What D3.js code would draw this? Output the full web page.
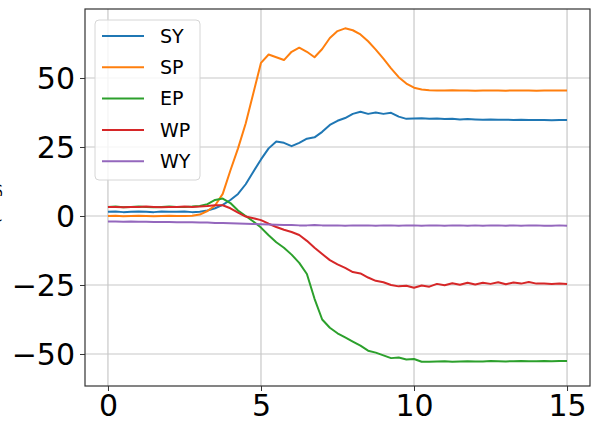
<!DOCTYPE html>
<html>
<head>
<meta charset="utf-8">
<script src="https://cdn.jsdelivr.net/npm/d3@7"></script>
<style>
  body { margin: 0; background: #fff; }
  svg text { font-family: "DejaVu Sans", sans-serif; fill: #000; }
</style>
</head>
<body>
<div id="canvas"></div>
<script>
// sample times, every 0.25 s from 0 to 15
var time = d3.range(61).map(i => i * 0.25)

var seriesNames = ['SY', 'SP', 'EP', 'WP', 'WY']
var seriesColors = ['#1f77b4', '#ff7f0e', '#2ca02c', '#d62728', '#9467bd']

var SY = [1.5, 1.6, 1.4, 1.5, 1.6, 1.5, 1.4, 1.6, 1.5, 1.5, 1.6, 1.4, 1.5,
  2.0, 2.8, 4.0, 5.8, 8.0, 11.5, 16.0, 20.5, 24.5, 27.0, 26.5, 25.3, 26.5,
  28.0, 28.5, 30.5, 33.0, 34.5, 35.5, 37.0, 37.8, 37.0, 37.5, 37.0, 37.4,
  36.0, 35.2, 35.3, 35.4, 35.2, 35.3, 35.1, 35.2, 35.0, 35.1, 35.0, 34.9,
  35.0, 34.9, 34.9, 34.8, 34.9, 34.8, 34.8, 34.8, 34.7, 34.8, 34.8]

var SP = [0.0, 0.1, -0.1, 0.0, 0.1, 0.0, -0.1, 0.0, 0.1, 0.0, 0.0, 0.1, 0.5,
  1.8, 3.8, 8.0, 16.5, 24.5, 33.5, 44.5, 55.5, 58.5, 57.5, 56.5, 59.5, 61.0,
  59.5, 57.5, 60.5, 64.5, 67.0, 68.0, 67.3, 65.8, 63.3, 60.3, 57.0, 53.5,
  50.3, 48.0, 46.5, 45.8, 45.6, 45.5, 45.5, 45.6, 45.5, 45.5, 45.4, 45.5,
  45.5, 45.5, 45.4, 45.5, 45.5, 45.5, 45.4, 45.5, 45.5, 45.5, 45.5]

var EP = [3.3, 3.4, 3.2, 3.3, 3.4, 3.3, 3.2, 3.3, 3.4, 3.3, 3.3, 3.4, 3.6,
  4.3, 5.8, 6.3, 4.7, 2.0, 0.0, -2.0, -4.2, -7.0, -9.5, -11.5, -14.0, -17.0,
  -21.0, -30.0, -37.5, -40.5, -42.5, -44.0, -45.5, -47.0, -48.8, -49.5,
  -50.5, -51.5, -51.3, -52.0, -51.8, -52.8, -52.8, -52.7, -52.6, -52.8,
  -52.7, -52.6, -52.7, -52.7, -52.5, -52.6, -52.7, -52.6, -52.5, -52.6,
  -52.6, -52.5, -52.6, -52.5, -52.5]

var WP = [3.3, 3.3, 3.2, 3.3, 3.3, 3.4, 3.3, 3.2, 3.3, 3.3, 3.4, 3.3, 3.4,
  3.6, 3.9, 3.9, 2.8, 1.2, -0.2, -0.8, -1.5, -2.8, -4.0, -5.0, -5.8, -6.9,
  -9.0, -11.5, -13.8, -16.0, -17.5, -18.8, -20.3, -20.8, -22.3, -23.5, -24.0,
  -25.0, -25.5, -25.3, -26.0, -25.2, -25.6, -24.6, -25.1, -24.4, -24.9, -24.2,
  -24.8, -24.2, -24.6, -24.0, -24.7, -24.1, -24.5, -23.9, -24.5, -24.5,
  -24.6, -24.5, -24.6]

var WY = [-2.0, -2.0, -2.1, -2.0, -2.1, -2.1, -2.2, -2.2, -2.2, -2.3, -2.3,
  -2.3, -2.4, -2.4, -2.5, -2.5, -2.6, -2.7, -2.8, -2.9, -3.0, -3.1, -3.2,
  -3.3, -3.3, -3.4, -3.4, -3.3, -3.4, -3.4, -3.4, -3.5, -3.4, -3.4, -3.4,
  -3.5, -3.4, -3.4, -3.5, -3.4, -3.4, -3.5, -3.4, -3.4, -3.5, -3.4, -3.4,
  -3.5, -3.4, -3.5, -3.4, -3.4, -3.5, -3.4, -3.5, -3.4, -3.4, -3.5, -3.5,
  -3.4, -3.5]

var xTicks = [0, 5, 10, 15]
var yTicks = [-50, -25, 0, 25, 50]
var yLabel = '(deg)'

var values = [SY, SP, EP, WP, WY]
var data = seriesNames.map((name, k) => ({
  name: name,
  color: seriesColors[k],
  points: time.map((t, i) => ({t: t, v: values[k][i]}))
}))

var W = 596, H = 422
var margin = {top: 9, right: 6, bottom: 36, left: 85},
  width = W - margin.left - margin.right,
  height = H - margin.top - margin.bottom

var svg = d3.select('#canvas')
  .append('svg')
    .attr('width', W)
    .attr('height', H)

var g = svg.append('g')
  .attr('transform', 'translate(' + margin.left + ',' + margin.top + ')')

var x = d3.scaleLinear().domain([-0.75, 15.75]).range([0, width])
var y = d3.scaleLinear().domain([-61.6, 75]).range([height, 0])

// grid
g.append('g').selectAll('line')
  .data(xTicks)
  .enter().append('line')
    .attr('x1', d => x(d)).attr('x2', d => x(d))
    .attr('y1', 0).attr('y2', height)
    .attr('stroke', '#c8c8c8').attr('stroke-width', 1.2)
g.append('g').selectAll('line')
  .data(yTicks)
  .enter().append('line')
    .attr('x1', 0).attr('x2', width)
    .attr('y1', d => y(d)).attr('y2', d => y(d))
    .attr('stroke', '#c8c8c8').attr('stroke-width', 1.2)

// lines
var line = d3.line().x(d => x(d.t)).y(d => y(d.v))
g.append('g').selectAll('path')
  .data(data)
  .enter().append('path')
    .attr('d', d => line(d.points))
    .attr('fill', 'none')
    .attr('stroke', d => d.color)
    .attr('stroke-width', 2)
    .attr('stroke-linejoin', 'round')

// axes
var fmt = d => d3.format('')(d).replace('-', '\u2212')
var xAxis = g.append('g')
  .attr('transform', 'translate(0,' + height + ')')
  .call(d3.axisBottom(x).tickValues(xTicks).tickFormat(fmt).tickSize(5).tickPadding(4))
var yAxis = g.append('g')
  .call(d3.axisLeft(y).tickValues(yTicks).tickFormat(fmt).tickSize(5).tickPadding(5))

;[xAxis, yAxis].forEach(a => {
  a.select('.domain').remove()
  a.selectAll('.tick line').attr('stroke', '#333').attr('stroke-width', 1)
  a.selectAll('.tick text')
    .style('font-family', '"DejaVu Sans", sans-serif')
    .style('font-size', '30px')
    .attr('fill', '#000')
})
xAxis.selectAll('.tick text').attr('dy', '0.7em')
yAxis.selectAll('.tick text').attr('dy', '0.36em')

// frame
g.append('rect')
  .attr('width', width).attr('height', height)
  .attr('fill', 'none')
  .attr('stroke', '#333').attr('stroke-width', 1.2)

// y label, almost fully off the left edge
svg.append('text')
  .attr('transform', 'translate(-1.5,203) rotate(-90)')
  .attr('text-anchor', 'middle')
  .style('font-size', '16px')
  .text(yLabel)

// legend
var legend = g.append('g').attr('transform', 'translate(10,11)')
legend.append('rect')
  .attr('width', 105).attr('height', 160)
  .attr('rx', 4)
  .attr('fill', '#fff').attr('fill-opacity', 0.8)
  .attr('stroke', '#d6d6d6').attr('stroke-width', 1)
var items = legend.selectAll('g.item')
  .data(data)
  .enter().append('g')
    .attr('class', 'item')
    .attr('transform', (d, i) => 'translate(0,' + (16 + i * 31.3) + ')')
items.append('line')
  .attr('x1', 7).attr('x2', 49)
  .attr('stroke', d => d.color).attr('stroke-width', 2)
items.append('text')
  .attr('x', 65).attr('dy', '0.36em')
  .style('font-size', '19px')
  .text(d => d.name)
</script>
</body>
</html>
